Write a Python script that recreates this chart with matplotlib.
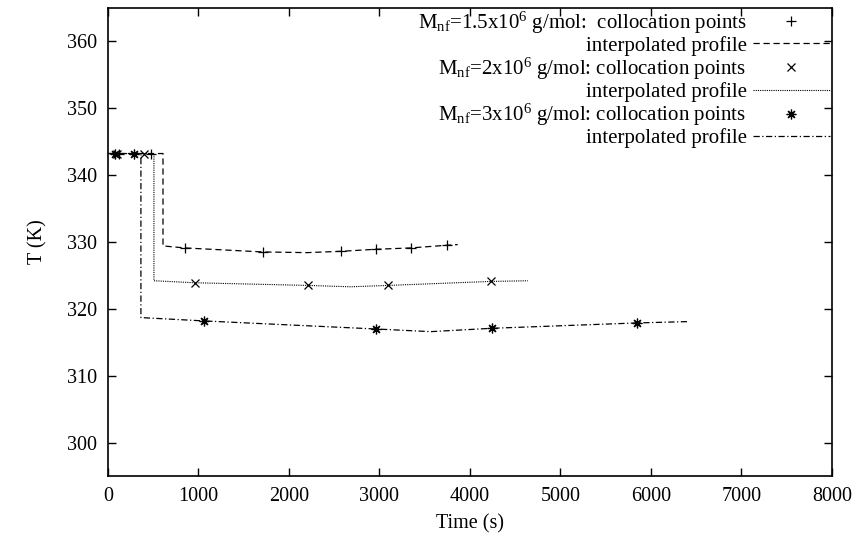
import matplotlib
matplotlib.use("Agg")
import matplotlib.pyplot as plt

plt.rcParams['font.family'] = ['Liberation Serif', 'DejaVu Serif']
plt.rcParams['mathtext.fontset'] = 'custom'
plt.rcParams['mathtext.rm'] = 'Liberation Serif'
plt.rcParams['mathtext.it'] = 'Liberation Serif:italic'

# Series 1: Mnf = 1.5e6 g/mol
s1_pts_t = [120, 480, 853, 1717, 2580, 2957, 3344, 3743]
s1_pts_T = [343.2, 343.2, 329.06, 328.46, 328.66, 328.96, 329.06, 329.55]
s1_prof_t = [0, 609, 609, 853, 1717, 2200, 2580, 2957, 3344, 3743, 3865]
s1_prof_T = [343.2, 343.2, 329.4, 329.1, 328.5, 328.4, 328.6, 328.9, 329.1, 329.5, 329.6]

# Series 2: Mnf = 2e6 g/mol
s2_pts_t = [100, 400, 963, 2215, 3090, 4230]
s2_pts_T = [343.2, 343.2, 323.9, 323.5, 323.5, 324.1]
s2_prof_t = [0, 509, 509, 963, 2215, 2680, 3090, 4230, 4640]
s2_prof_T = [343.2, 343.2, 324.2, 323.9, 323.5, 323.3, 323.5, 324.1, 324.2]

# Series 3: Mnf = 3e6 g/mol
s3_pts_t = [75, 290, 1063, 2957, 4241, 5847]
s3_pts_T = [343.2, 343.2, 318.2, 317.0, 317.1, 317.9]
s3_prof_t = [0, 365, 365, 1063, 2957, 3566, 4241, 5847, 6410]
s3_prof_T = [343.2, 343.2, 318.7, 318.2, 317.0, 316.6, 317.1, 317.9, 318.1]

labels = [
    r"M$_{\mathrm{nf}}$=1.5x10$^{6}$ g/mol:  collocation points",
    "interpolated profile",
    r"M$_{\mathrm{nf}}$=2x10$^{6}$ g/mol: collocation points",
    "interpolated profile",
    r"M$_{\mathrm{nf}}$=3x10$^{6}$ g/mol: collocation points",
    "interpolated profile",
]

xticks = [0, 1000, 2000, 3000, 4000, 5000, 6000, 7000, 8000]
yticks = [300, 310, 320, 330, 340, 350, 360]

fig = plt.figure(figsize=(8.63, 5.40), dpi=100)
ax = fig.add_axes([0.125, 0.118, 0.839, 0.868])

lw = 0.9
star = (8, 2, 0)
ax.plot(s1_pts_t, s1_pts_T, ls='none', marker='+', ms=7, mew=0.9, color='black', label=labels[0])
ax.plot(s1_prof_t, s1_prof_T, ls=(0, (5, 3)), lw=lw, color='black', label=labels[1])
ax.plot(s2_pts_t, s2_pts_T, ls='none', marker='x', ms=6, mew=0.9, color='black', label=labels[2])
ax.plot(s2_prof_t, s2_prof_T, ls=(0, (1, 1)), lw=0.8, color='black', label=labels[3])
ax.plot(s3_pts_t, s3_pts_T, ls='none', marker=star, ms=7, mew=0.9, color='black', label=labels[4])
ax.plot(s3_prof_t, s3_prof_T, ls=(0, (5, 2, 1, 2)), lw=lw, color='black', label=labels[5])

ax.set_xlim(0, 8000)
ax.set_ylim(295, 365)
ax.set_xticks(xticks)
ax.set_yticks(yticks)
ax.tick_params(direction='in', length=6, width=1, top=True, right=True, labelsize=14.5, pad=8)
for s in ax.spines.values():
    s.set_linewidth(1.2)

ax.set_xlabel("Time (s)", fontsize=14.5, labelpad=6)
ax.set_ylabel("T (K)", fontsize=14.5, labelpad=14)

leg = ax.legend(loc='upper right', frameon=False, markerfirst=False, fontsize=15,
                handlelength=3.7, handletextpad=0.3, labelspacing=0.0,
                borderaxespad=0.0, borderpad=0.1)

fig.savefig("out.png", dpi=100)
